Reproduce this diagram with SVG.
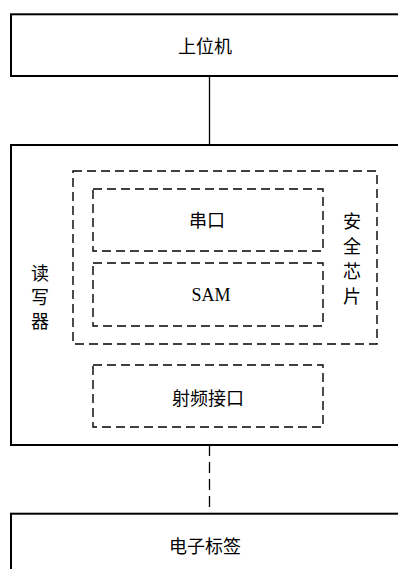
<svg xmlns="http://www.w3.org/2000/svg" width="398" height="569" viewBox="0 0 398 569">
<style>
.box{fill:#fff;stroke:#000;stroke-width:2}
.dbox{fill:none;stroke:#000;stroke-width:1.4;stroke-dasharray:9,5}
.t{font-family:"Noto Sans CJK SC","Liberation Serif",serif;font-size:18px;fill:#000;text-anchor:middle;dominant-baseline:central}
.s{font-family:"Liberation Serif",serif;font-size:18px;fill:#000;text-anchor:middle;dominant-baseline:central}
.line{stroke:#000;stroke-width:1.3;fill:none}
</style>
<rect width="398" height="569" fill="#fff"/>
<g id="connectors">
<line class="line" x1="209.5" y1="76" x2="209.5" y2="145"/>
<line class="line" x1="209.5" y1="445" x2="209.5" y2="514" stroke-dasharray="11,6"/>
</g>
<g id="host">
<rect class="box" x="11" y="14.3" width="400" height="61.7"/>
<text class="t" x="205" y="45">上位机</text>
</g>
<g id="reader">
<rect class="box" x="11" y="145" width="400" height="300"/>
<text class="t" x="40" y="272">读</text>
<text class="t" x="40" y="296">写</text>
<text class="t" x="40" y="320">器</text>
</g>
<g id="chip">
<rect class="dbox" x="73" y="171" width="304" height="173"/>
<text class="t" x="352" y="220">安</text>
<text class="t" x="352" y="245">全</text>
<text class="t" x="352" y="270">芯</text>
<text class="t" x="352" y="295">片</text>
</g>
<g id="serial">
<rect class="dbox" x="93" y="189" width="230" height="62"/>
<text class="t" x="207" y="219">串口</text>
</g>
<g id="sam">
<rect class="dbox" x="93" y="263" width="230" height="63"/>
<text class="s" x="211" y="295">SAM</text>
</g>
<g id="rf">
<rect class="dbox" x="93" y="365" width="230" height="62"/>
<text class="t" x="208" y="397">射频接口</text>
</g>
<g id="tag">
<rect class="box" x="11" y="513.7" width="400" height="80"/>
<text class="t" x="205" y="545">电子标签</text>
</g>
</svg>
